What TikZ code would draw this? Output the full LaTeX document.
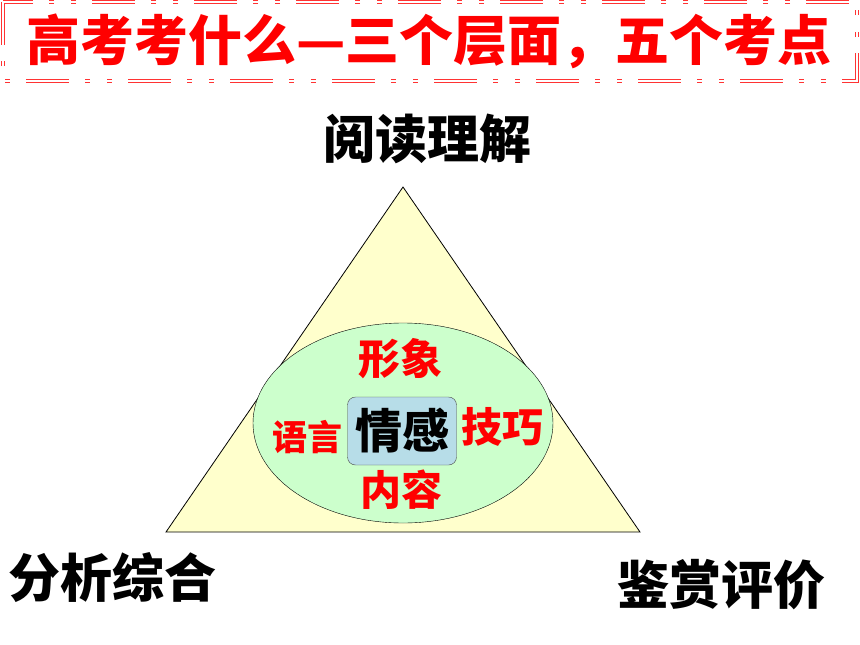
\documentclass[tikz,border=0pt]{standalone}
\usepackage{fontspec}
\setmainfont{Noto Sans CJK SC}
\usetikzlibrary{shapes.geometric}
\definecolor{tipYellow}{HTML}{FFFFCC}
\definecolor{tipGreen}{HTML}{CCFFCC}
\definecolor{tipBlue}{HTML}{B7DDE8}
\definecolor{tipRed}{HTML}{FF0000}
\newcommand{\vSize}[1]{\fontsize{#1}{#1}\selectfont\bfseries}

\begin{document}
\begin{tikzpicture}[x=1pt, y=-1pt,
		level/.style={inner sep=0pt, font=\vSize{52}},
		point/.style={inner sep=0pt, text=tipRed, font=\vSize{#1}}]
	\useasboundingbox (0,0) rectangle (860,645);
	% title with its frame
	\draw[tipRed!80, line width=1pt, double=white, double distance=1.4pt,
		dash pattern=on 43pt off 16pt on 5pt off 17pt on 5pt off 16pt] (3,2) rectangle (857,81);
	\node[inner sep=0pt, text=tipRed, font=\vSize{54}] (title) at (429,41) {高考考什么—三个层面，五个考点};

	% three levels
	\coordinate (apex) at (403,187);
	\coordinate (right) at (640,532);
	\coordinate (left) at (166,532);
	\draw[fill=tipYellow, line width=0.8pt] (apex) -- (right) -- (left) -- cycle;
	\node[level] (read) at (427,139) {阅读理解};
	\node[level] (analyse) at (113,578) {分析综合};
	\node[level] (judge) at (721,585) {鉴赏评价};

	% five points
	\node[ellipse, draw, fill=tipGreen, minimum width=300pt, minimum height=200pt] (core) at (403,423) {};
	\node[rectangle, rounded corners=8pt, draw=black!70, fill=tipBlue, inner sep=0pt,
		minimum width=109pt, minimum height=68pt, font=\vSize{47}] (feel) at (402,431) {情感};
	\node[point=42] (image) at (400,359) {形象};
	\node[point=35] (lang) at (307,437) {语言};
	\node[point=41] (skill) at (502,427) {技巧};
	\node[point=41] (content) at (401,490) {内容};
\end{tikzpicture}
\end{document}
